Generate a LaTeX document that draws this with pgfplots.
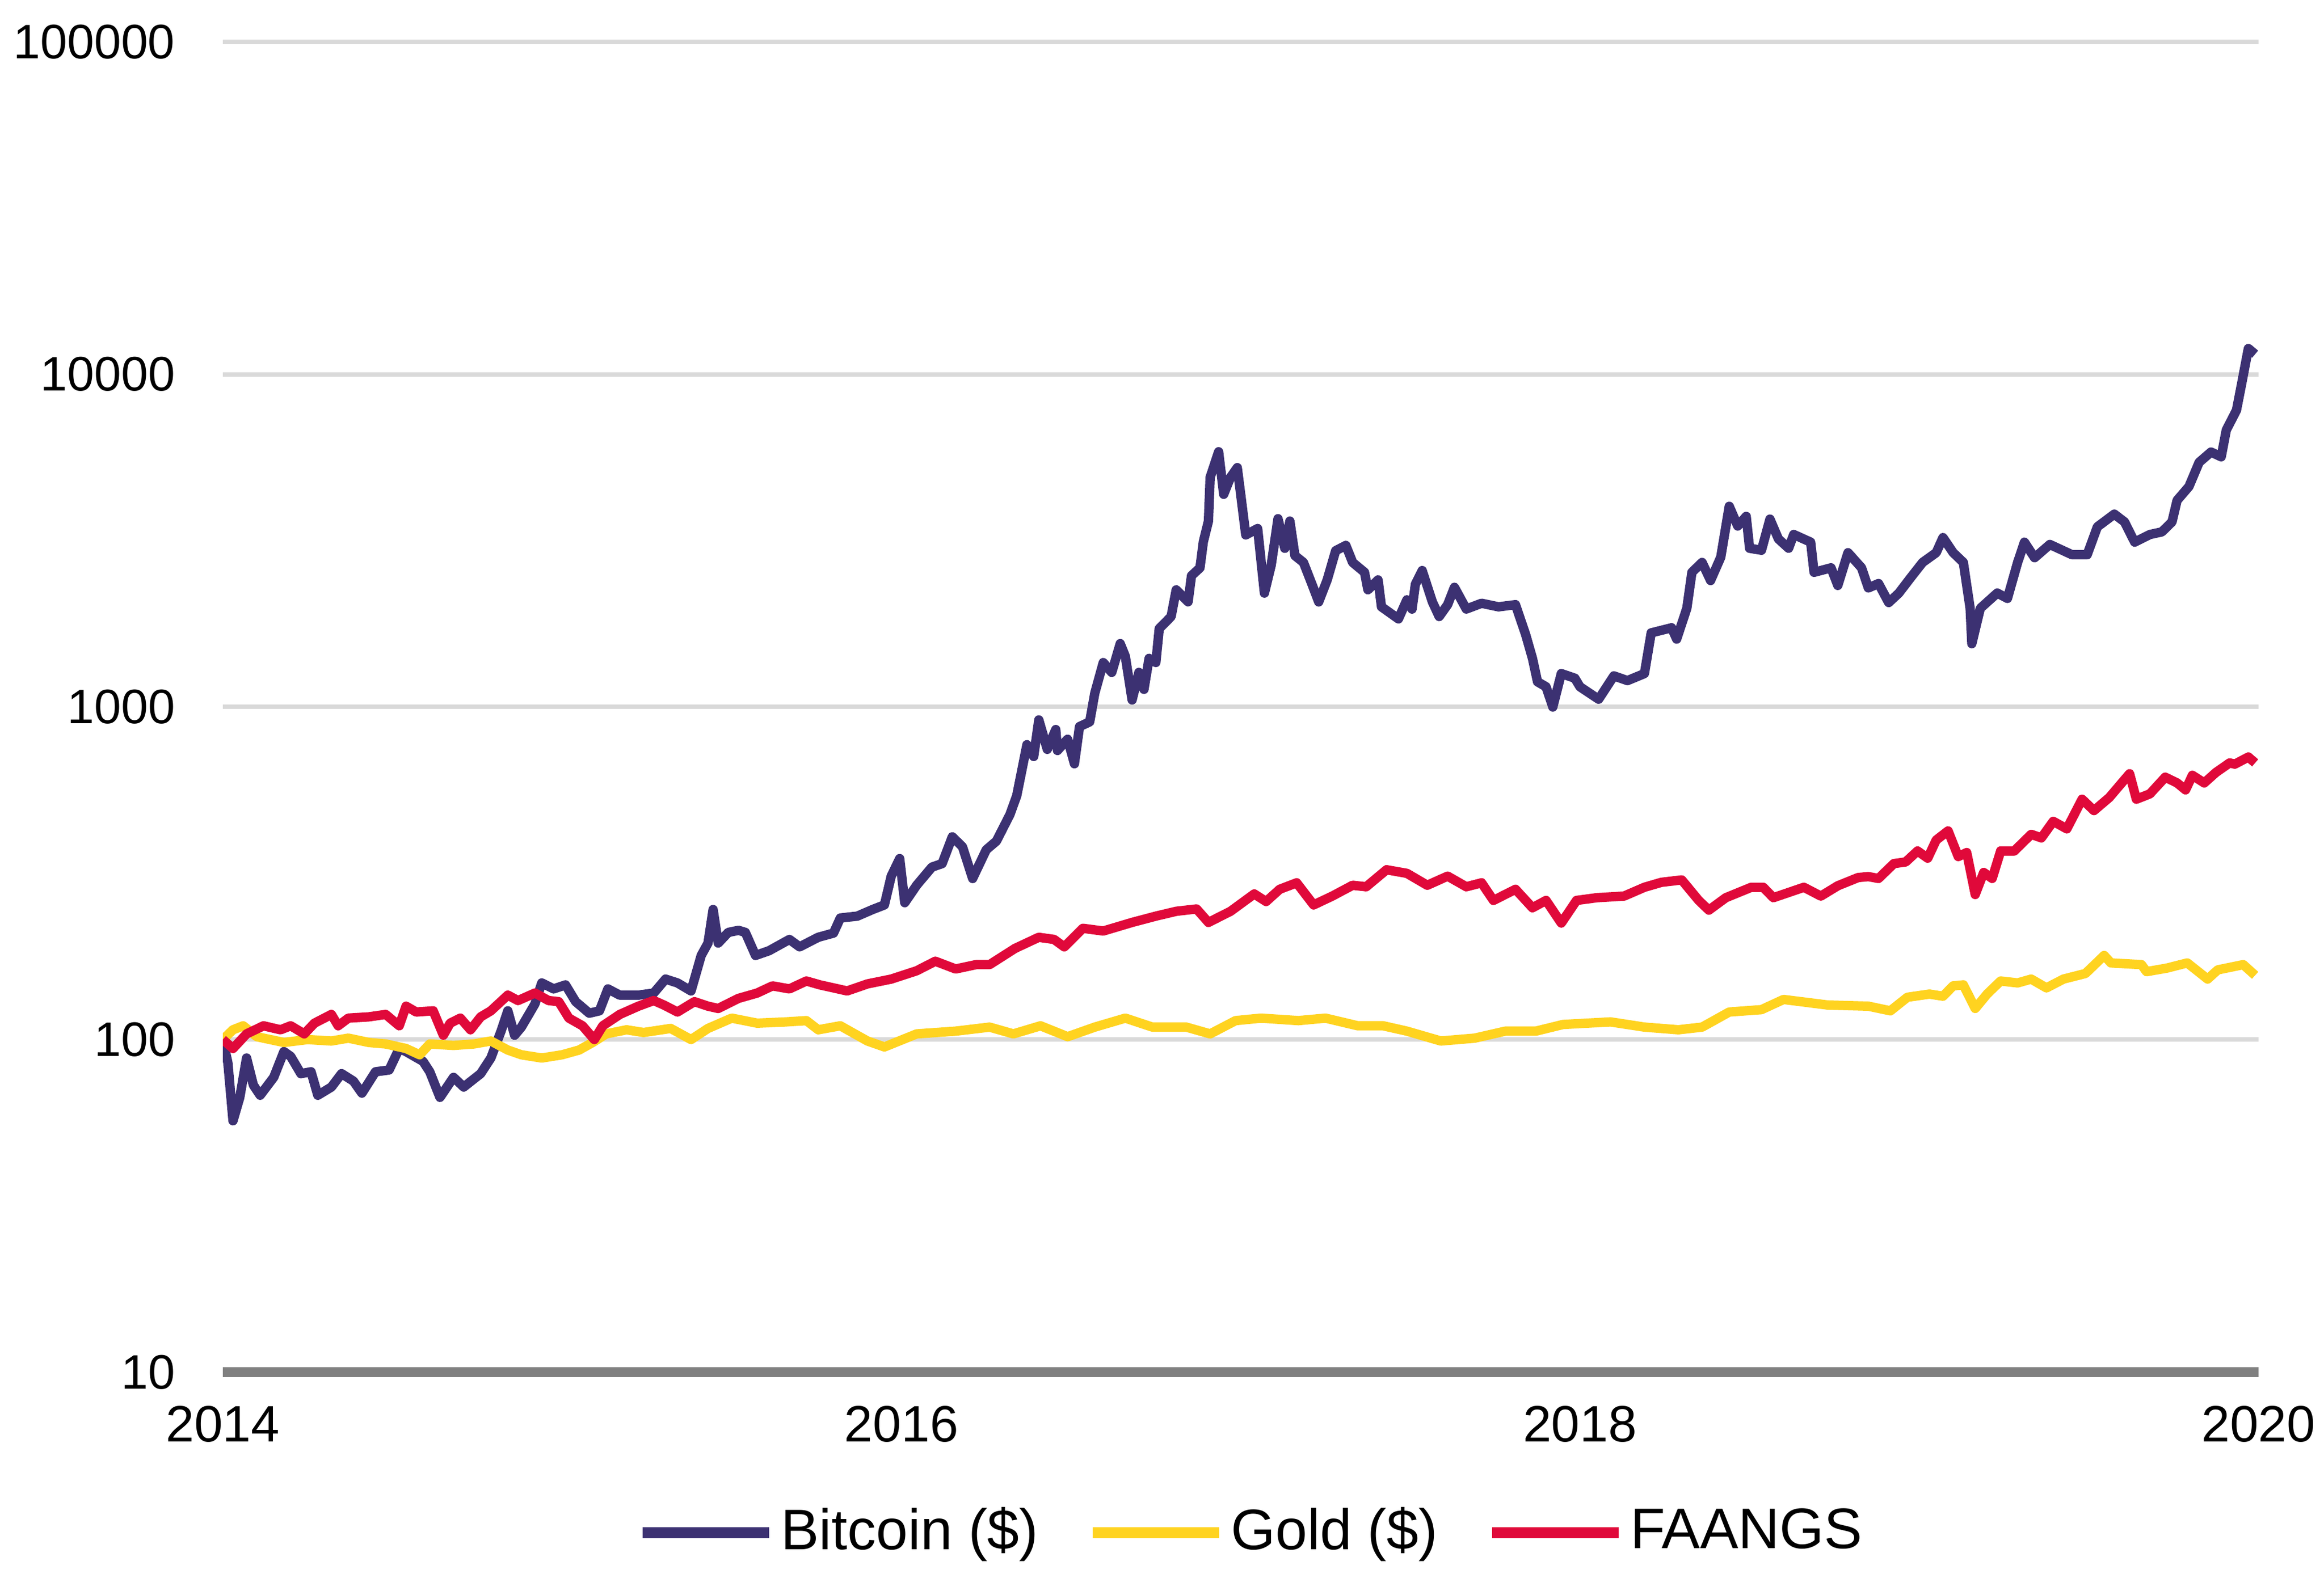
\documentclass[border=0pt]{standalone}
\usepackage{pgfplots}
\pgfplotsset{compat=1.18}
\usepackage{fontspec}
\setmainfont{Liberation Sans}
\definecolor{btc}{HTML}{3C3172}
\definecolor{gold}{HTML}{FFD320}
\definecolor{faang}{HTML}{E0093A}
\definecolor{gridc}{HTML}{D9D9D9}
\definecolor{axc}{HTML}{808080}
\begin{document}
\begin{tikzpicture}
\useasboundingbox (0,0) rectangle (422.4bp,286.2bp);
\begin{axis}[
  at={(40.5bp,36.7bp)}, anchor=south west,
  scale only axis, width=370bp, height=241.9bp,
  ymode=log, xmin=2014, xmax=2020, ymin=10, ymax=100000,
  xtick={2014,2016,2018,2020}, xticklabels={2014,2016,2018,2020},
  ytick={10,100,1000,10000,100000}, yticklabels={10,100,1000,10000,100000},
  /pgf/number format/assume math mode=true,
  axis x line*=bottom, axis y line*=left,
  x axis line style={draw=axc, line width=1.8bp},
  y axis line style={draw=none},
  major tick length=0pt, tick style={draw=none},
  ymajorgrids, grid style={draw=gridc, line width=0.8bp},
  yticklabel style={inner sep=0pt, xshift=-8.5bp, font=\fontsize{8.8bp}{10bp}\selectfont},
  xticklabel style={inner sep=0pt, yshift=-6bp, font=\fontsize{9.3bp}{11bp}\selectfont},
  legend columns=3,
  legend style={draw=none, fill=none, at={(0.506,-0.1207)}, anchor=center,
    font=\fontsize{10.4bp}{12bp}\selectfont, nodes={inner sep=1.1bp},
    /tikz/every even column/.append style={column sep=7.8bp}},
  legend image code/.code={\draw[#1, line width=2bp] (0bp,0bp) -- (23bp,0bp);},
  every axis plot/.append style={line width=1.7bp, line join=round},
]
\addplot[btc] coordinates {
(2014.00,100)(2014.015,85)(2014.03,57)(2014.05,67)(2014.07,88)(2014.09,73)(2014.11,68)(2014.15,77)(2014.18,92)(2014.20,89)
(2014.23,79)(2014.26,80)(2014.28,68)(2014.32,72)(2014.35,79)(2014.385,75)(2014.41,69)(2014.45,80)(2014.49,81)(2014.52,94)
(2014.54,92)(2014.59,86)(2014.61,80)(2014.64,67)(2014.68,77)(2014.71,72)(2014.76,79)(2014.79,88)(2014.82,106)(2014.84,122)
(2014.86,103)(2014.88,109)(2014.92,128)(2014.94,148)(2014.975,142)(2015.01,146)(2015.04,130)(2015.08,120)(2015.11,122)(2015.135,142)
(2015.17,136)(2015.225,136)(2015.27,138)(2015.305,152)(2015.34,148)(2015.38,140)(2015.41,179)(2015.43,195)(2015.445,246)(2015.46,195)
(2015.49,210)(2015.52,213)(2015.54,210)(2015.57,179)(2015.61,185)(2015.67,200)(2015.70,190)(2015.755,203)(2015.80,209)(2015.82,232)
(2015.87,235)(2015.915,246)(2015.95,254)(2015.97,310)(2015.995,350)(2016.01,258)(2016.045,291)(2016.09,330)(2016.12,338)(2016.15,407)
(2016.18,380)(2016.21,305)(2016.25,372)(2016.28,395)(2016.32,475)(2016.34,541)(2016.37,770)(2016.39,710)(2016.405,914)(2016.43,746)
(2016.455,855)(2016.46,740)(2016.49,800)(2016.51,675)(2016.525,873)(2016.555,902)(2016.57,1100)(2016.595,1360)(2016.62,1270)(2016.645,1550)
(2016.66,1420)(2016.68,1050)(2016.70,1270)(2016.715,1130)(2016.73,1400)(2016.75,1360)(2016.76,1720)(2016.795,1870)(2016.81,2250)(2016.845,2070)
(2016.855,2480)(2016.88,2620)(2016.89,3140)(2016.905,3620)(2016.91,4900)(2016.935,5850)(2016.95,4360)(2016.97,4900)(2016.99,5240)(2017.00,4360)
(2017.015,3290)(2017.05,3440)(2017.07,2200)(2017.09,2670)(2017.11,3680)(2017.13,3000)(2017.145,3620)(2017.16,2850)(2017.185,2720)(2017.21,2340)
(2017.23,2070)(2017.255,2410)(2017.28,2950)(2017.31,3060)(2017.33,2720)(2017.365,2540)(2017.375,2250)(2017.405,2410)(2017.415,2000)(2017.465,1840)
(2017.49,2100)(2017.505,1970)(2017.515,2340)(2017.535,2570)(2017.565,2070)(2017.585,1870)(2017.61,2030)(2017.63,2290)(2017.665,1970)(2017.71,2050)
(2017.76,2000)(2017.81,2030)(2017.84,1650)(2017.86,1400)(2017.875,1190)(2017.90,1150)(2017.92,1000)
(2017.945,1260)(2017.985,1220)(2018.00,1150)(2018.055,1055)(2018.10,1240)(2018.14,1200)(2018.19,1260)(2018.21,1670)(2018.27,1730)(2018.285,1600)
(2018.315,1980)(2018.33,2540)(2018.36,2720)(2018.385,2400)(2018.415,2820)(2018.44,4010)(2018.465,3500)(2018.49,3740)(2018.50,3000)(2018.535,2960)
(2018.56,3670)(2018.585,3200)(2018.615,3000)(2018.63,3300)(2018.68,3130)(2018.69,2540)(2018.74,2620)(2018.76,2320)(2018.79,2910)(2018.83,2620)
(2018.85,2280)(2018.88,2350)(2018.91,2060)(2018.94,2200)(2018.975,2450)(2019.01,2720)(2019.05,2910)(2019.07,3230)(2019.10,2910)(2019.13,2720)
(2019.15,1980)(2019.155,1550)(2019.18,1980)(2019.23,2200)(2019.26,2120)(2019.29,2720)(2019.31,3130)(2019.34,2810)(2019.385,3080)(2019.45,2870)
(2019.495,2870)(2019.525,3480)(2019.575,3800)(2019.605,3600)(2019.635,3130)(2019.68,3300)(2019.715,3360)(2019.745,3600)(2019.76,4180)(2019.795,4600)
(2019.825,5440)(2019.86,5840)(2019.89,5650)(2019.905,6800)(2019.935,7800)(2019.95,9340)(2019.97,11960)(2019.99,11500)
};
\addlegendentry{Bitcoin (\$)}
\addplot[gold] coordinates {
(2014.00,100)(2014.03,107)(2014.06,110)(2014.10,102)(2014.18,98)(2014.25,100)(2014.32,99)(2014.37,101)(2014.43,98)(2014.48,97)
(2014.54,94)(2014.58,90)(2014.61,97)(2014.68,96)(2014.74,97)(2014.79,99)(2014.84,93)(2014.88,90)(2014.94,88)(2015.00,90)
(2015.05,93)(2015.09,98)(2015.13,104)(2015.19,107)(2015.24,105)(2015.32,108)(2015.38,100)(2015.43,108)(2015.50,116)(2015.575,112)
(2015.66,113)(2015.72,114)(2015.755,107)(2015.82,110)(2015.90,99)(2015.95,95)(2016.045,104)(2016.16,106)(2016.26,109)(2016.33,104)
(2016.41,110)(2016.49,102)(2016.57,109)(2016.66,116)(2016.74,109)(2016.84,109)(2016.91,104)(2016.985,114)(2017.06,116)(2017.17,114)
(2017.25,116)(2017.345,110)(2017.42,110)(2017.49,106)(2017.59,99)(2017.69,101)(2017.78,106)(2017.87,106)(2017.95,111)(2018.09,113)
(2018.19,109)(2018.29,107)(2018.36,109)(2018.44,121)(2018.535,123)(2018.60,132)(2018.73,127)(2018.85,126)(2018.915,122)(2018.965,134)
(2019.03,137)(2019.07,135)(2019.10,145)(2019.13,146)(2019.165,124)(2019.20,137)(2019.24,150)(2019.29,148)(2019.33,152)(2019.375,143)
(2019.425,152)(2019.49,158)(2019.545,179)(2019.565,170)(2019.655,168)(2019.67,160)(2019.73,164)(2019.79,170)(2019.85,152)(2019.88,162)
(2019.955,168)(2019.99,156)
};
\addlegendentry{Gold (\$)}
\addplot[faang] coordinates {
(2014.00,100)(2014.03,94)(2014.07,104)(2014.12,110)(2014.17,107)(2014.20,110)(2014.24,104)(2014.27,112)(2014.32,119)(2014.34,110)
(2014.37,116)(2014.43,117)(2014.48,119)(2014.52,110)(2014.54,126)(2014.57,121)(2014.62,122)(2014.65,103)(2014.67,112)(2014.70,116)
(2014.73,107)(2014.76,117)(2014.79,122)(2014.84,136)(2014.87,131)(2014.92,138)(2014.96,131)(2014.99,130)(2015.02,116)(2015.06,110)
(2015.095,100)(2015.12,110)(2015.17,119)(2015.225,126)(2015.27,131)(2015.30,127)(2015.34,121)(2015.39,130)(2015.43,126)(2015.46,124)
(2015.52,133)(2015.575,138)(2015.62,145)(2015.67,142)(2015.72,150)(2015.76,146)(2015.80,143)(2015.84,140)(2015.90,147)(2015.97,152)
(2016.045,161)(2016.10,172)(2016.16,163)(2016.22,168)(2016.26,168)(2016.335,188)(2016.405,203)(2016.45,200)(2016.48,190)(2016.535,216)
(2016.595,212)(2016.68,225)(2016.75,235)(2016.81,243)(2016.87,247)(2016.905,225)(2016.97,243)(2017.04,274)(2017.075,260)(2017.115,283)
(2017.165,296)(2017.215,254)(2017.27,270)(2017.33,291)(2017.37,288)(2017.43,324)(2017.49,316)(2017.55,291)(2017.61,310)(2017.665,288)
(2017.71,296)(2017.745,262)(2017.81,283)(2017.86,249)(2017.90,262)(2017.945,224)(2017.99,262)(2018.05,267)(2018.13,270)(2018.19,287)
(2018.24,297)(2018.30,302)(2018.35,262)(2018.38,245)(2018.43,267)(2018.505,287)(2018.54,287)(2018.57,267)(2018.66,287)(2018.71,270)
(2018.76,290)(2018.82,307)(2018.85,309)(2018.88,305)(2018.925,338)(2018.96,342)(2018.995,369)(2019.025,351)(2019.05,398)(2019.085,424)
(2019.115,355)(2019.14,365)(2019.165,273)(2019.19,318)(2019.215,305)(2019.24,369)(2019.28,369)(2019.33,414)(2019.36,404)(2019.395,453)
(2019.435,430)(2019.48,528)(2019.515,488)(2019.56,534)(2019.62,630)(2019.64,528)(2019.68,548)(2019.725,615)(2019.76,591)(2019.785,563)
(2019.805,623)(2019.84,591)(2019.875,636)(2019.915,679)(2019.93,673)(2019.97,707)(2019.99,679)
};
\addlegendentry{FAANGS}
\end{axis}
\end{tikzpicture}
\end{document}
